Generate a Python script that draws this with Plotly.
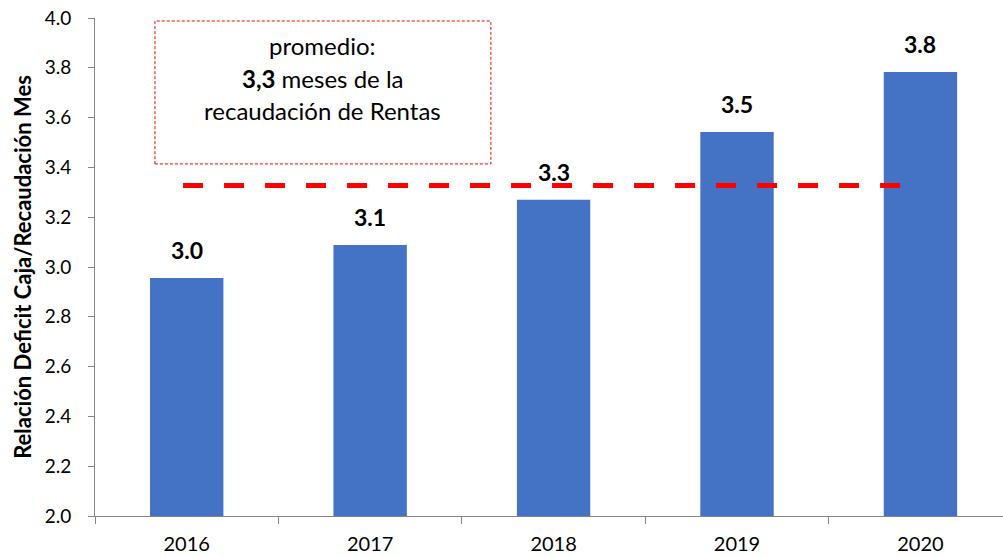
import plotly.graph_objects as go

# data
years = ['2016', '2017', '2018', '2019', '2020']
ratio = [2.956, 3.088, 3.270, 3.542, 3.783]
labels = ['3.0', '3.1', '3.3', '3.5', '3.8']
avg_ratio = sum(ratio) / len(ratio)
box_lines = ['promedio:', '<b>3,3</b> meses de la', 'recaudación de Rentas']

FONT = 'Lato'
AXIS_GREY = '#868686'

fig = go.Figure()
fig.add_trace(go.Bar(x=list(range(len(years))), y=ratio, width=0.4, marker_color='#4472C4',
                     marker_line_width=0, showlegend=False, hoverinfo='skip'))

# value labels above bars
for i, (v, lab) in enumerate(zip(ratio, labels)):
    fig.add_annotation(x=i, y=v, xref='x', yref='y', text='<b>' + lab + '</b>', showarrow=False,
                       xanchor='center', yanchor='bottom', yshift=12,
                       font=dict(family=FONT, size=23, color='black'))

# average dashed line
fig.add_shape(type='line', xref='x', yref='y', x0=-0.02, x1=3.95, y0=avg_ratio, y1=avg_ratio,
              line=dict(color='#FF0000', width=5, dash='20px,21px'), layer='above')

# dashed box with note
fig.add_shape(type='rect', xref='paper', yref='y', x0=0.066, x1=0.436, y0=3.414, y1=3.988,
              line=dict(color='#FF0000', width=1, dash='3px,2px'), fillcolor='rgba(0,0,0,0)')
for txt, yy in zip(box_lines, [3.888, 3.759, 3.627]):
    fig.add_annotation(xref='paper', yref='y', x=0.251, y=yy, text=txt, showarrow=False,
                       xanchor='center', yanchor='middle',
                       font=dict(family=FONT, size=24, color='black'))

fig.update_layout(
    width=1003, height=557,
    margin=dict(l=95, r=0, t=18, b=41),
    plot_bgcolor='white', paper_bgcolor='white',
    font=dict(family=FONT, color='black'),
)
fig.update_xaxes(range=[-0.5, 4.45], tickvals=list(range(len(years))), ticktext=years,
                 showline=True, linecolor=AXIS_GREY, linewidth=1, ticks='', showgrid=False,
                 zeroline=False, automargin=False, ticklabelstandoff=10,
                 tickfont=dict(family=FONT, size=20, color='black'))
# tick marks between categories
fig.update_layout(xaxis2=dict(overlaying='x', matches='x', tickvals=[i - 0.5 for i in range(len(years))],
                              showticklabels=False, ticks='outside', ticklen=7, tickcolor=AXIS_GREY,
                              showgrid=False, zeroline=False, showline=False, automargin=False, side='bottom'))
fig.add_trace(go.Scatter(x=[None], y=[None], xaxis='x2', showlegend=False, hoverinfo='skip'))
fig.update_yaxes(range=[2.0, 4.0], dtick=0.2, tickformat='.1f', showline=True, linecolor=AXIS_GREY,
                 linewidth=1, ticks='outside', ticklen=6, tickcolor=AXIS_GREY, showgrid=False,
                 zeroline=False, automargin=False, ticklabelstandoff=13,
                 tickfont=dict(family=FONT, size=19, color='black'),
                 title=dict(text='<b>Relación Deficit Caja/Recaudación Mes</b>',
                            font=dict(family=FONT, size=22, color='black'), standoff=6))

# page body has a default 8px margin; remove it so the figure sits at the window corner
fig.write_html('out.html', post_script="document.body.style.margin='0';",
               config={'displayModeBar': False})
